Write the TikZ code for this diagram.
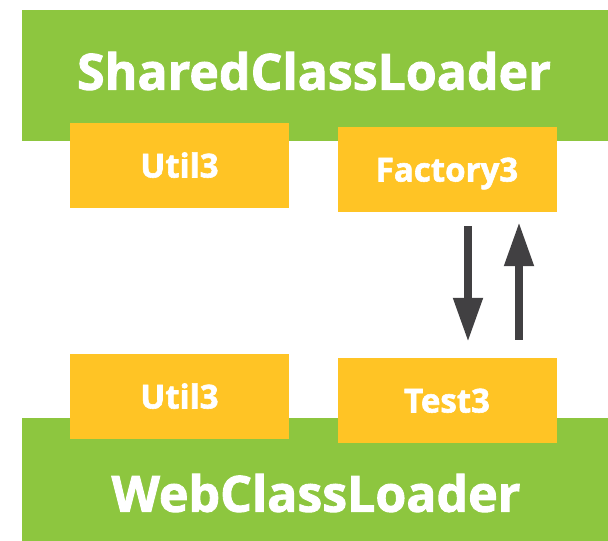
\documentclass[tikz,border=0pt]{standalone}
\usepackage{fontspec}
\setmainfont{Open Sans}
\newfontfamily\heavyfont{Open Sans}[BoldFont={Open Sans Bold},BoldFeatures={FakeBold=1.8}]
\usetikzlibrary{arrows.meta}
\definecolor{loadergreen}{RGB}{141,198,63}
\definecolor{classyellow}{RGB}{255,196,37}
\definecolor{arrowgrey}{RGB}{65,64,66}
\begin{document}
\begin{tikzpicture}[x=1pt,y=-1pt,
  loader/.style={fill=loadergreen,draw=none,inner sep=0pt,anchor=north west},
  loadertext/.style={text=white,font=\heavyfont\fontsize{50}{54}\selectfont\bfseries,inner sep=0pt},
  classbox/.style={fill=classyellow,draw=none,inner sep=0pt,minimum width=219pt,minimum height=85pt,
    text height=24pt,text depth=0pt,
    text=white,font=\heavyfont\fontsize{33}{37}\selectfont\bfseries},
  flow/.style={draw=arrowgrey,line width=8pt,-{Triangle[length=44pt,width=28pt]}}]
\useasboundingbox (0,0) rectangle (608,541);
% class loaders
\node[loader,minimum width=586pt,minimum height=131pt] (shared) at (22,10) {};
\node[loader,minimum width=586pt,minimum height=123pt] (web) at (22,418) {};
\node[loadertext] (sharedlbl) at (314,71) {SharedClassLoader};
\node[loadertext] (weblbl) at (316,493) {WebClassLoader};
% classes
\node[classbox] (utilA) at (179.5,165.5) {Util3};
\node[classbox] (factory) at (447,169.5) {Factory3};
\node[classbox] (utilB) at (179.5,396.5) {Util3};
\node[classbox] (test) at (447,400.5) {Test3};
% calls between Factory3 and Test3
\draw[flow] ([xshift=21pt,yshift=-14pt]factory.south) -- ([xshift=21pt,yshift=16pt]test.north);
\draw[flow] ([xshift=72pt,yshift=18pt]test.north) -- ([xshift=72pt,yshift=-10pt]factory.south);
\end{tikzpicture}
\end{document}
